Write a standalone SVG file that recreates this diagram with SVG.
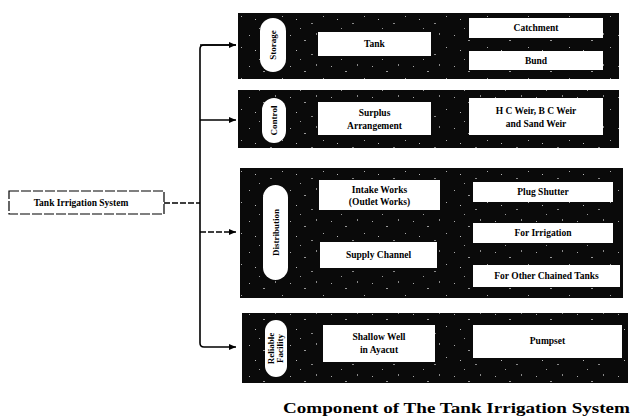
<svg xmlns="http://www.w3.org/2000/svg" width="634" height="419" viewBox="0 0 634 419">
<style>
.panel{fill:#0a0a0a;}
.speck{fill:url(#noise);}
.box{fill:#fff;stroke:none;}
.oval{fill:#fff;}
.t{font-family:"Liberation Serif",serif;font-size:9.5px;fill:#000;text-anchor:middle;font-weight:bold;}
.tv{font-family:"Liberation Serif",serif;font-size:9px;fill:#000;text-anchor:middle;font-weight:bold;}
.conn{fill:none;stroke:#000;stroke-width:1.6;}
.dash{stroke-dasharray:6 2;}
</style>
<defs>
<pattern id="noise" width="41" height="31" patternUnits="userSpaceOnUse">
<rect x="3" y="4" width="1" height="1" fill="#aaa"/>
<rect x="17" y="9" width="2" height="1" fill="#999"/>
<rect x="29" y="2" width="1" height="2" fill="#888"/>
<rect x="9" y="19" width="1" height="1" fill="#bbb"/>
<rect x="24" y="23" width="2" height="1" fill="#888"/>
<rect x="36" y="16" width="1" height="1" fill="#aaa"/>
<rect x="13" y="28" width="1" height="1" fill="#999"/>
</pattern>
<marker id="arr" markerWidth="8" markerHeight="8" refX="7" refY="4" orient="auto" markerUnits="userSpaceOnUse">
<path d="M0,1 L7,4 L0,7 Z" fill="#000"/>
</marker>
</defs>
<rect width="634" height="419" fill="#fff"/>

<g id="connectors">
<path class="conn dash" d="M164 203 H200"/>
<path class="conn" d="M236 45 H204 Q200 45 200 49 V343 Q200 347 204 347 H236" marker-end="url(#arr)"/>
<path class="conn" d="M200 45 H236" marker-end="url(#arr)"/>
<path class="conn" d="M200 120 H236" marker-end="url(#arr)"/>
<path class="conn dash" d="M200 232 H236" marker-end="url(#arr)"/>
</g>

<g id="root">
<rect x="9" y="191" width="155" height="23" fill="#fff" stroke="#000" stroke-width="1.2" stroke-dasharray="10 2"/>
<text x="81" y="206" class="t" font-size="9">Tank Irrigation System</text>
</g>

<g id="storage">
<rect class="panel" x="238" y="13" width="381" height="66"/>
<rect class="speck" x="238" y="13" width="381" height="66"/>
<rect class="oval" x="260" y="18" width="26" height="54" rx="13"/>
<text class="tv" transform="translate(276 45) rotate(-90)">Storage</text>
<rect class="box" x="318" y="32" width="113" height="24"/>
<text class="t" x="374.5" y="47">Tank</text>
<rect class="box" x="469" y="18" width="134" height="20"/>
<text class="t" x="536" y="31">Catchment</text>
<rect class="box" x="469" y="51" width="134" height="19"/>
<text class="t" x="536" y="64">Bund</text>
</g>

<g id="control">
<rect class="panel" x="238" y="90" width="381" height="58"/>
<rect class="speck" x="238" y="90" width="381" height="58"/>
<rect class="oval" x="262" y="98" width="24" height="45" rx="12"/>
<text class="tv" transform="translate(277 120.5) rotate(-90)">Control</text>
<rect class="box" x="318" y="102" width="113" height="33"/>
<text class="t" x="374.5" y="116">Surplus</text>
<text class="t" x="374.5" y="129">Arrangement</text>
<rect class="box" x="469" y="98" width="134" height="37"/>
<text class="t" x="536" y="114">H C Weir, B C Weir</text>
<text class="t" x="536" y="127">and Sand Weir</text>
</g>

<g id="distribution">
<rect class="panel" x="240" y="168" width="383" height="130"/>
<rect class="speck" x="240" y="168" width="383" height="130"/>
<rect class="oval" x="263" y="185" width="25" height="95" rx="12.5"/>
<text class="tv" transform="translate(279 232.5) rotate(-90)">Distribution</text>
<rect class="box" x="319" y="180" width="121" height="30"/>
<text class="t" x="379.5" y="193">Intake Works</text>
<text class="t" x="379.5" y="205">(Outlet Works)</text>
<rect class="box" x="320" y="242" width="117" height="26"/>
<text class="t" x="378.5" y="258">Supply Channel</text>
<rect class="box" x="473" y="182" width="140" height="20"/>
<text class="t" x="543" y="195">Plug Shutter</text>
<rect class="box" x="473" y="223" width="140" height="20"/>
<text class="t" x="543" y="236">For Irrigation</text>
<rect class="box" x="473" y="265" width="147" height="22"/>
<text class="t" x="546.5" y="279">For Other Chained Tanks</text>
</g>

<g id="reliable">
<rect class="panel" x="242" y="313" width="386" height="70"/>
<rect class="speck" x="242" y="313" width="386" height="70"/>
<rect class="oval" x="265" y="320" width="22" height="57" rx="11"/>
<text class="tv" font-size="8" transform="translate(274 348.5) rotate(-90)">Reliable</text>
<text class="tv" font-size="8" transform="translate(283 348.5) rotate(-90)">Facility</text>
<rect class="box" x="323" y="325" width="112" height="37"/>
<text class="t" x="379" y="340">Shallow Well</text>
<text class="t" x="379" y="353">in Ayacut</text>
<rect class="box" x="473" y="325" width="149" height="33"/>
<text class="t" x="547.5" y="344">Pumpset</text>
</g>

<text x="283" y="413" font-family="Liberation Serif, serif" font-size="15" font-weight="bold" textLength="347" lengthAdjust="spacingAndGlyphs" fill="#000">Component of The Tank Irrigation System</text>
</svg>
